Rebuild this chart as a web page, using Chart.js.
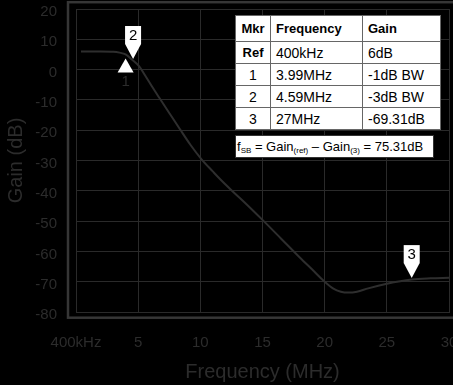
<!DOCTYPE html>
<html lang="en">
<head>
<meta charset="UTF-8">
<title>Gain vs Frequency</title>
<script src="https://cdn.jsdelivr.net/npm/chart.js"></script>
<style>
    html, body { margin: 0; padding: 0; background: #000; }
    .wrap { position: relative; width: 453px; height: 385px; overflow: hidden; }
    canvas { display: block; }
    .mkr-table {
        position: absolute; left: 235px; top: 15px;
        border-collapse: collapse; table-layout: fixed; width: 205px;
        background: #fff; color: #000;
        font-family: Arial, "Liberation Sans", sans-serif;
        border: 1px solid #333;
    }
    .mkr-table td, .mkr-table th {
        border: 1px solid #666; padding: 0 0 0 5px;
        height: 21px; font-size: 14px; font-weight: normal;
        text-align: left; white-space: nowrap; overflow: hidden;
    }
    .mkr-table th { height: 25px; font-weight: bold; font-size: 13px; }
    .mkr-table td:first-child, .mkr-table th:first-child { text-align: center; padding: 0; }
    .mkr-table td.bold { font-weight: bold; font-size: 13px; }
    .fsb {
        position: absolute; left: 235px; top: 135px; width: 196px; height: 21px;
        background: #fff; color: #000; border: 1px solid #333;
        font-family: Arial, "Liberation Sans", sans-serif; font-size: 13px;
        line-height: 21px; padding-left: 1px; white-space: nowrap;
    }
    .fsb sub { font-size: 8px; vertical-align: -2px; line-height: 0; }
</style>
</head>
<body>
<div class="wrap">
    <canvas id="gainChart" width="453" height="385"></canvas>
    <table class="mkr-table" id="mkrTable">
        <colgroup><col style="width:35px"><col style="width:92px"><col style="width:78px"></colgroup>
    </table>
    <div class="fsb" id="fsbNote"></div>
</div>
<script>
    // frequency response, MHz vs dB
    const freqMHz = [0.4, 1, 2, 3, 3.5, 3.99, 4.59, 5.1, 5.6, 6.1, 6.7, 7.5, 8.35, 9.2, 10.1, 11, 11.6,
        12.5, 13.5, 15, 16.5, 18, 19, 20, 20.7, 21.3, 21.9, 22.6, 23.5, 25, 27, 28.5, 30];
    const gainDb = [6, 6, 6, 5.9, 5.6, 5, 3, 1, -2.2, -5.5, -9.3, -14.3, -19.6, -24.8, -29.6, -33.6, -36.2,
        -39.8, -43.6, -49.6, -55.8, -62, -66, -70, -72.3, -73.3, -73.6, -73.3, -72.2, -70.7, -69.31, -68.9, -68.7];

    // markers on the curve
    const markerNames = ['1', '2', '3'];
    const markerFreq = [3.99, 4.59, 27];
    const markerGain = [5, 3, -69.31];

    // marker table rows
    const tableHead = ['Mkr', 'Frequency', 'Gain'];
    const tableRows = [
        ['Ref', '400kHz', '6dB'],
        ['1', '3.99MHz', '-1dB BW'],
        ['2', '4.59MHz', '-3dB BW'],
        ['3', '27MHz', '-69.31dB']
    ];
    const fsbValue = '75.31dB';

    const xTicksLabel = { 0: '400kHz' };

    const textColor = '#2c2c2c';
    const gridColor = '#2a2a2a';
    const frameColor = '#363636';

    // build the table
    const table = document.getElementById('mkrTable');
    const headRow = table.insertRow();
    tableHead.forEach(h => {
        const th = document.createElement('th');
        th.textContent = h;
        headRow.appendChild(th);
    });
    tableRows.forEach(r => {
        const tr = table.insertRow();
        r.forEach((c, i) => {
            const td = tr.insertCell();
            td.textContent = c;
            if (i === 0 && c === 'Ref') td.className = 'bold';
        });
    });
    document.getElementById('fsbNote').innerHTML =
        'f<sub>SB</sub> = Gain<sub>(ref)</sub> – Gain<sub>(3)</sub> = ' + fsbValue;

    // black background and outer frame
    const framePlugin = {
        id: 'frame',
        beforeDraw(chart) {
            const { ctx, chartArea: a, width, height } = chart;
            ctx.save();
            ctx.fillStyle = '#000';
            ctx.fillRect(0, 0, width, height);
            ctx.strokeStyle = frameColor;
            ctx.lineWidth = 2.5;
            ctx.strokeRect(a.left - 8, a.top - 6.8, width, a.bottom - a.top + 12.5);
            ctx.restore();
        }
    };

    // triangle markers with their numbers
    const markerPlugin = {
        id: 'markers',
        afterDatasetsDraw(chart) {
            const { ctx, scales: { x, y } } = chart;
            ctx.save();
            ctx.font = '15px Arial, "Liberation Sans", sans-serif';
            ctx.textAlign = 'center';
            ctx.textBaseline = 'middle';
            markerNames.forEach((name, i) => {
                const px = x.getPixelForValue(markerFreq[i]);
                const py = y.getPixelForValue(markerGain[i]);
                ctx.fillStyle = '#fff';
                ctx.beginPath();
                if (name === '1') {
                    // pointing up, sitting under the curve
                    const tip = py + 4;
                    ctx.moveTo(px, tip);
                    ctx.lineTo(px + 8, tip + 14);
                    ctx.lineTo(px - 8, tip + 14);
                    ctx.closePath();
                    ctx.fill();
                    ctx.fillStyle = textColor;
                    ctx.fillText(name, px, tip + 23);
                } else {
                    const tip = py - 1.5;
                    const base = tip - 15;
                    ctx.moveTo(px, tip);
                    ctx.lineTo(px + 8, base);
                    ctx.lineTo(px - 8, base);
                    ctx.closePath();
                    ctx.fill();
                    ctx.fillRect(px - 8, base - 18, 16, 18);
                    ctx.fillStyle = '#000';
                    ctx.fillText(name, px, base - 8.5);
                }
            });
            ctx.restore();
        }
    };

    new Chart(document.getElementById('gainChart'), {
        type: 'line',
        data: {
            datasets: [{
                data: freqMHz.map((f, i) => ({ x: f, y: gainDb[i] })),
                borderColor: '#2e2e2e',
                borderWidth: 2,
                pointRadius: 0,
                cubicInterpolationMode: 'monotone',
                fill: false
            }]
        },
        options: {
            responsive: false,
            animation: false,
            events: [],
            layout: { padding: { top: 9, right: 4, left: 0, bottom: 0 } },
            plugins: { legend: { display: false }, tooltip: { enabled: false } },
            scales: {
                x: {
                    type: 'linear', min: 0, max: 30,
                    afterFit: s => { s.height = 73; s.paddingLeft = 0; s.paddingRight = 0; },
                    ticks: {
                        stepSize: 5, maxRotation: 0, padding: 22,
                        color: textColor, font: { size: 15, family: 'Arial, "Liberation Sans", sans-serif' },
                        callback: v => xTicksLabel[v] || String(v)
                    },
                    grid: { color: gridColor, lineWidth: 1, drawTicks: false },
                    border: { color: gridColor, width: 1 },
                    title: {
                        display: true, text: 'Frequency (MHz)', color: textColor,
                        font: { size: 20, family: 'Arial, "Liberation Sans", sans-serif' },
                        padding: { top: 0, bottom: 1 }
                    }
                },
                y: {
                    type: 'linear', min: -80, max: 20,
                    afterFit: s => { s.width = 76; s.paddingTop = 0; s.paddingBottom = 0; },
                    ticks: {
                        stepSize: 10, padding: 19, labelOffset: 3,
                        color: textColor, font: { size: 15, family: 'Arial, "Liberation Sans", sans-serif' }
                    },
                    grid: { color: gridColor, lineWidth: 1, drawTicks: false },
                    border: { color: gridColor, width: 1 },
                    title: {
                        display: true, text: 'Gain (dB)', color: textColor,
                        font: { size: 20, family: 'Arial, "Liberation Sans", sans-serif' },
                        padding: { top: 4, bottom: 0 }
                    }
                }
            }
        },
        plugins: [framePlugin, markerPlugin]
    });
</script>
</body>
</html>
